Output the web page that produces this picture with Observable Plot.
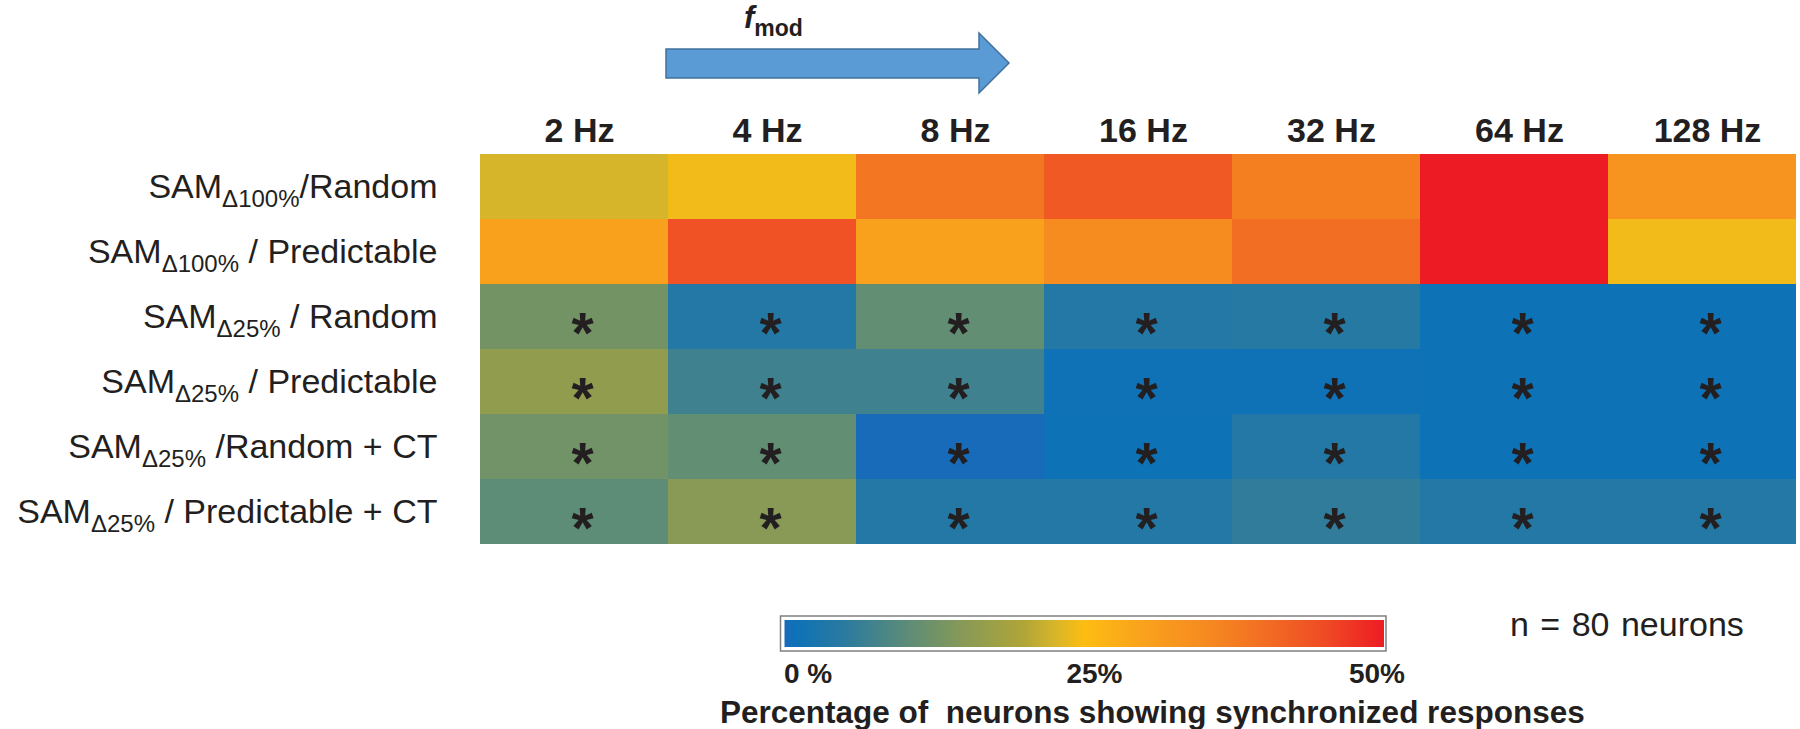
<!DOCTYPE html>
<html><head><meta charset="utf-8">
<script src="https://cdn.jsdelivr.net/npm/d3@7"></script>
<script src="https://cdn.jsdelivr.net/npm/@observablehq/plot@0.6"></script>
<style>
html,body{margin:0;padding:0;background:#fff;}
svg text{font-family:"Liberation Sans",Arial,Helvetica,sans-serif;}
</style></head><body><div id="chart"></div>
<script>
// ---- data ----
const frequencies = ["2 Hz","4 Hz","8 Hz","16 Hz","32 Hz","64 Hz","128 Hz"];
const conditionMain = ["SAM","SAM","SAM","SAM","SAM","SAM"];
const conditionSub  = ["Δ100%","Δ100%","Δ25%","Δ25%","Δ25%","Δ25%"];
const conditionRest = ["/Random"," / Predictable"," / Random"," / Predictable"," /Random + CT"," / Predictable + CT"];

// percentage of neurons showing synchronized responses, per condition (2..128 Hz)
const sam100Random        = [22.5, 24.3, 38.5, 43.0, 37.0, 50.0, 33.0];
const sam100Predictable   = [30.0, 44.0, 30.0, 35.0, 40.0, 50.0, 24.3];
const sam25Random         = [12.8, 3.9, 10.9, 3.9, 4.3, 1.0, 1.0];
const sam25Predictable    = [16.1, 7.1, 7.1, 0.9, 0.9, 1.0, 1.0];
const sam25RandomCT       = [12.6, 10.9, 0.0, 1.0, 3.9, 1.0, 1.0];
const sam25PredictableCT  = [10.3, 15.0, 3.9, 3.9, 5.6, 3.9, 3.9];
const significant = [false, false, true, true, true, true];

const colorStopValues = [0, 1, 5, 10, 15, 20, 22.5, 25, 30, 35, 40, 45, 50];
const colorStopColors = ["#176bb9","#0e72b6","#2b7a9f","#5a8b79","#889a56","#b1a537","#d6b52a","#fdbd12","#f9a11d","#f68b20","#f26e23","#ef4b25","#ed1c24"];

const colorbarTickValues = [0, 25, 50];
const colorbarTickLabels = ["0 %", "25%", "50%"];
const colorbarTitle = "Percentage of  neurons showing synchronized responses";
const sampleNote = "n = 80 neurons";
const axisTitleMain = "f";
const axisTitleSub = "mod";

// ---- build table ----
const seriesValues = [sam100Random, sam100Predictable, sam25Random, sam25Predictable, sam25RandomCT, sam25PredictableCT];
const rows = conditionMain.map((m, i) => `${m}_${conditionSub[i]}${conditionRest[i]}`);
const table = [];
seriesValues.forEach((vals, r) => vals.forEach((v, c) =>
  table.push({row: rows[r], freq: frequencies[c], value: v, sig: significant[r]})));

const ink = "#231f20";

const chart = Plot.plot({
  width: 1800, height: 729,
  marginLeft: 477, marginRight: 2, marginTop: 153, marginBottom: 185,
  style: {background: "#fff", fontFamily: "Liberation Sans, Arial, sans-serif"},
  x: {domain: frequencies, padding: 0, axis: null},
  y: {domain: rows, padding: 0, axis: null},
  color: {type: "linear", domain: colorStopValues, range: colorStopColors, interpolate: "rgb"},
  marks: [
    Plot.cell(table, {x: "freq", y: "row", fill: "value", inset: 0, shapeRendering: "crispEdges"}),
    Plot.text(table.filter(d => d.sig), {x: "freq", y: "row", text: () => "*", fontSize: 57, fontWeight: "bold", fill: ink, dx: 8, dy: 18}),
    Plot.text(frequencies, {x: d => d, text: d => d, frameAnchor: "top", lineAnchor: "bottom", dy: -12, dx: 5, fontSize: 34, fontWeight: "bold", fill: ink}),
    Plot.text(rows, {y: d => d, text: d => d, frameAnchor: "left", textAnchor: "end", dx: -40, fontSize: 34, fill: ink})
  ]
});
document.getElementById("chart").appendChild(chart);

// rich row labels (subscripts)
const textGroups = chart.querySelectorAll('g[aria-label="text"]');
const rowTexts = textGroups[textGroups.length - 1].querySelectorAll("text");
rowTexts.forEach((t, i) => {
  t.textContent = "";
  t.style.whiteSpace = "pre";
  const s = d3.select(t);
  s.append("tspan").text(conditionMain[i]);
  s.append("tspan").attr("dy", 9).attr("font-size", 24).text(conditionSub[i]);
  s.append("tspan").attr("dy", -9).attr("font-size", 34).text(conditionRest[i]);
});

const svg = d3.select(chart);
// f_mod arrow
svg.append("path")
  .attr("d", "M666,49 L979,49 L979,33 L1009,63 L979,93 L979,78 L666,78 Z")
  .attr("fill", "#5b9bd5").attr("stroke", "#41719c").attr("stroke-width", 1.5);
const ft = svg.append("text").attr("x", 744).attr("y", 28).attr("text-anchor", "start")
  .attr("fill", ink).attr("font-weight", "bold");
ft.append("tspan").attr("font-style", "italic").attr("font-size", 31).text(axisTitleMain);
ft.append("tspan").attr("font-size", 23).attr("dy", 8).text(axisTitleSub);

// colorbar
const grad = svg.append("defs").append("linearGradient").attr("id", "cbar");
colorStopValues.forEach((v, i) => grad.append("stop").attr("offset", v / 50).attr("stop-color", colorStopColors[i]));
const cb = d3.scaleLinear().domain([0, 50]).range([784.5, 1384]);
const cbLabel = d3.scaleLinear().domain([0, 50]).range([784, 1405]);
svg.append("rect").attr("x", 780.5).attr("y", 616).attr("width", 605.5).attr("height", 35)
  .attr("fill", "#fff").attr("stroke", "#7f7f7f").attr("stroke-width", 1.5);
svg.append("rect").attr("x", cb(0)).attr("y", 620).attr("width", cb(50) - cb(0)).attr("height", 27).attr("fill", "url(#cbar)");
colorbarTickValues.forEach((v, i) => {
  svg.append("text").attr("x", cbLabel(v)).attr("y", 683)
    .attr("text-anchor", i === 0 ? "start" : i === colorbarTickValues.length - 1 ? "end" : "middle")
    .attr("font-size", 28).attr("font-weight", "bold").attr("fill", ink).text(colorbarTickLabels[i]);
});
svg.append("text").attr("x", 720).attr("y", 723).attr("text-anchor", "start").attr("font-size", 31.5).attr("font-weight", "bold")
  .attr("fill", ink).style("white-space", "pre").text(colorbarTitle);
svg.append("text").attr("x", 1510).attr("y", 636).attr("text-anchor", "start").attr("font-size", 34).attr("fill", ink)
  .attr("word-spacing", 2).text(sampleNote);
</script></body></html>
